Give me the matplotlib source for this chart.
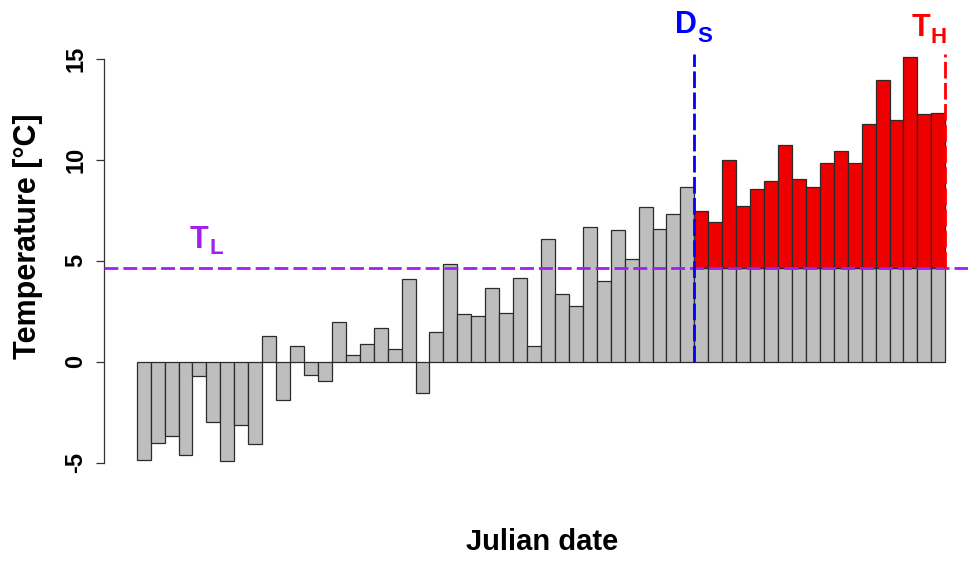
import matplotlib
matplotlib.use("Agg")
import matplotlib.pyplot as plt
import numpy as np

# Daily mean temperature for consecutive Julian days
temperature = [
    -4.87, -4.02, -3.68, -4.63, -0.71, -2.97, -4.92, -3.14, -4.08, 1.27,
    -1.88, 0.78, -0.66, -0.94, 1.95, 0.35, 0.89, 1.67, 0.63, 4.10,
    -1.54, 1.49, 4.86, 2.38, 2.28, 3.65, 2.43, 4.15, 0.79, 6.08,
    3.37, 2.78, 6.68, 3.99, 6.51, 5.09, 7.68, 6.58, 7.31, 8.68,
    7.46, 6.91, 10.00, 7.73, 8.56, 8.94, 10.73, 9.07, 8.68, 9.84,
    10.45, 9.84, 11.77, 13.98, 11.98, 15.09, 12.28, 12.33,
]
t_low = 4.66          # lower temperature threshold T_L
ds_day = 40           # index of the first day after D_S
line_top = 15.25      # upper end of the vertical markers
y_ticks = [-5, 0, 5, 10, 15]

plt.rcParams["font.family"] = ["Liberation Sans", "DejaVu Sans"]

W, H = 968, 561
fig = plt.figure(figsize=(W / 100, H / 100), dpi=100)
ax = fig.add_axes([0, 0, 1, 1])

# pixel geometry of the plotting region
x0_px, bar_px = 136.7, 13.941
y0_px, unit_px = 361.7, 20.17


def xd(px):
    return (px - x0_px) / bar_px


def yd(py):
    return (y0_px - py) / unit_px


ax.set_xlim(xd(0), xd(W))
ax.set_ylim(yd(H), yd(0))

n = len(temperature)
x = np.arange(n)
temp = np.array(temperature)

gray = "#BEBEBE"
edge = "#2b2b2b"
early = x < ds_day
late = ~early

ax.bar(x[early], temp[early], width=1, align="edge", color=gray,
       edgecolor=edge, linewidth=0.9, zorder=2)
ax.bar(x[late], np.full(late.sum(), t_low), width=1, align="edge",
       color=gray, edgecolor=edge, linewidth=0.9, zorder=2)
ax.bar(x[late], temp[late] - t_low, bottom=t_low, width=1, align="edge",
       color="#EE0000", edgecolor=edge, linewidth=0.9, zorder=2)

# threshold and date markers
ax.hlines(t_low, xd(104), xd(W), colors="#A020F0", linewidth=2.0,
          linestyles=(0, (5.0, 1.8)), zorder=3)
ax.vlines(ds_day, 0, line_top, colors="#0000FF", linewidth=2.0,
          linestyles=(0, (6.0, 1.6)), zorder=4)
ax.vlines(n, t_low, line_top, colors="#FF0000", linewidth=2.0,
          linestyles=(0, (6.0, 1.6)), zorder=4)


def symbol(main, sub, left_px, base_px, sub_left_px, sub_base_px, color):
    ax.text(xd(left_px), yd(base_px), main, color=color, fontsize=22,
            fontweight="bold", ha="left", va="baseline")
    ax.text(xd(sub_left_px), yd(sub_base_px), sub, color=color,
            fontsize=16, fontweight="bold", ha="left", va="baseline")


symbol("D", "S", 675, 33, 697, 42, "#0000FF")
symbol("T", "H", 912, 36, 931, 43, "#FF0000")
symbol("T", "L", 190, 248, 209, 254, "#A020F0")

# y axis in base-graphics style
for side in ["top", "right", "bottom"]:
    ax.spines[side].set_visible(False)
ax.spines["left"].set_position(("data", xd(104)))
ax.spines["left"].set_bounds(y_ticks[0], y_ticks[-1])
ax.spines["left"].set_linewidth(0.9)
ax.spines["left"].set_color("#333333")
ax.set_xticks([])
ax.set_yticks(y_ticks)
ax.set_yticklabels([str(v) for v in y_ticks], rotation=90, va="center",
                   fontsize=17, fontweight="bold")
ax.tick_params(axis="y", direction="out", length=6, width=0.9, pad=6,
               color="#333333")

ax.text(xd(28), yd(236), "Temperature [°C]", rotation=90, fontsize=22,
        fontweight="bold", ha="center", va="center")
ax.text(xd(542), yd(550), "Julian date", fontsize=21, fontweight="bold",
        ha="center", va="baseline")

fig.savefig("out.png", dpi=100)
